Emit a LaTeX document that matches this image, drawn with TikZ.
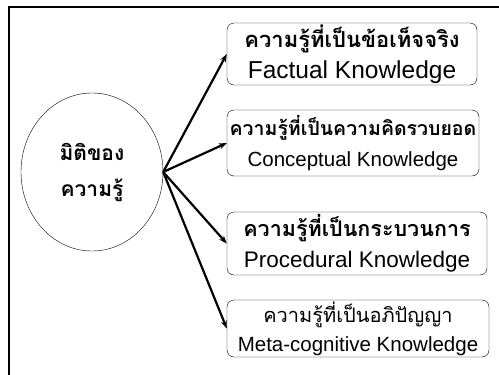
\documentclass[tikz,border=0pt]{standalone}
\usepackage{fontspec}
\setmainfont{Liberation Sans}
\newfontfamily\thaifont[Script=Thai]{Loma}
\usetikzlibrary{positioning}
\usetikzlibrary{shapes.geometric}
\usetikzlibrary{arrows.meta}

% Thai line of a box: size, text
\newcommand{\thline}[2]{{\thaifont\fontsize{#1}{31}\selectfont #2}}

\begin{document}
\begin{tikzpicture}[x=1pt, y=-1pt,
    kbox/.style={draw, rounded corners=7pt, align=center, inner sep=0pt},
    link/.style={-{Stealth[length=8pt,width=6pt]}, line width=2.2pt}]

    \useasboundingbox (0,0) rectangle (499,375);

    % Frame
    \draw[line width=2pt] (9,375) -- (9,7) -- (499,7);

    % Nodes
    \node at (92,172) (dim) [draw, ellipse, inner sep=0pt, minimum width=142pt,
        minimum height=158pt, align=center,
        font=\fontsize{21}{36}\selectfont\thaifont\bfseries]
        {มิติของ\\ความรู้};
    \node at (352,54) (fact) [kbox, minimum width=250pt, minimum height=62pt,
        font=\fontsize{24.5}{31}\selectfont]
        {\thline{22}{\bfseries ความรู้ที่เป็นข้อเท็จจริง}\\Factual Knowledge};
    \node at (353,143) (concept) [kbox, minimum width=252pt, minimum height=66pt,
        font=\fontsize{20.5}{31}\selectfont]
        {\thline{19.5}{\bfseries ความรู้ที่เป็นความคิดรวบยอด}\\Conceptual Knowledge};
    \node at (357,243.5) (proc) [kbox, minimum width=260pt, minimum height=63pt,
        font=\fontsize{22.5}{31}\selectfont]
        {\thline{21.5}{\bfseries ความรู้ที่เป็นกระบวนการ}\\Procedural Knowledge};
    \node at (358,328.5) (meta) [kbox, minimum width=262pt, minimum height=57pt,
        font=\fontsize{20.5}{29}\selectfont]
        {\thline{20}{ความรู้ที่เป็นอภิปัญญา}\\Meta-cognitive Knowledge};

    % Arrows
    \draw[link] (dim.east) -- (fact.west);
    \draw[link] (dim.east) -- (concept.west);
    \draw[link] (dim.east) -- (proc.west);
    \draw[link] (dim.east) -- (meta.west);

\end{tikzpicture}
\end{document}
